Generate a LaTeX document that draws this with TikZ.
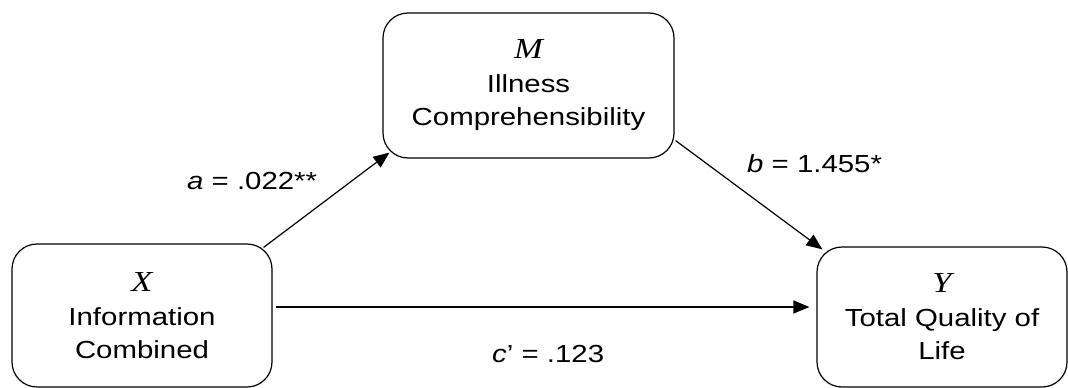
\documentclass[tikz,border=0pt]{standalone}
\usepackage{fontspec}
\setmainfont{Liberation Sans}[FakeStretch=1.19]
\newfontfamily\serifit{Liberation Serif}[FakeStretch=1.19]
\newcommand\varletter[1]{{\fontsize{29}{33}\serifit\itshape #1}}
\usetikzlibrary{arrows.meta}
\begin{document}
\begin{tikzpicture}[x=1pt,y=-1pt,
  box/.style={draw, line width=1.2pt, rounded corners=25pt, inner sep=0pt, align=center,
              font=\fontsize{24.7}{33}\selectfont},
  conn/.style={line width=1.2pt, -{Triangle[length=16pt,width=13pt]}},
  lbl/.style={font=\fontsize{24.7}{30}\selectfont, anchor=base west, inner sep=0pt}]
\useasboundingbox (0,0) rectangle (1068,388);
\node[box, minimum width=260pt, minimum height=143pt] (X) at (142,315.5)
  {\varletter{X}\\[1pt]Information\\Combined};
\node[box, minimum width=291pt, minimum height=145pt] (M) at (528.5,85.5)
  {\varletter{M}\\[1pt]Illness\\Comprehensibility};
\node[box, minimum width=250pt, minimum height=140pt] (Y) at (942,317)
  {\varletter{Y}\\[1pt]Total Quality of\\Life};
\node[lbl] (la) at (187,189) {\textit{a} = .022**};
\node[lbl] (lb) at (747,172) {\textit{b} = 1.455*};
\node[lbl] (lc) at (492,362) {\textit{c}’ = .123};
\draw[conn] ([shift={(-9,4)}]X.north east) -- ([shift={(7,-6)}]M.south west);
\draw[conn] ([shift={(1,-18)}]M.south east) -- ([shift={(6,3)}]Y.north west);
\draw[conn] ([shift={(3,-8.5)}]X.east) -- ([shift={(-7,-10)}]Y.west);
\end{tikzpicture}
\end{document}
